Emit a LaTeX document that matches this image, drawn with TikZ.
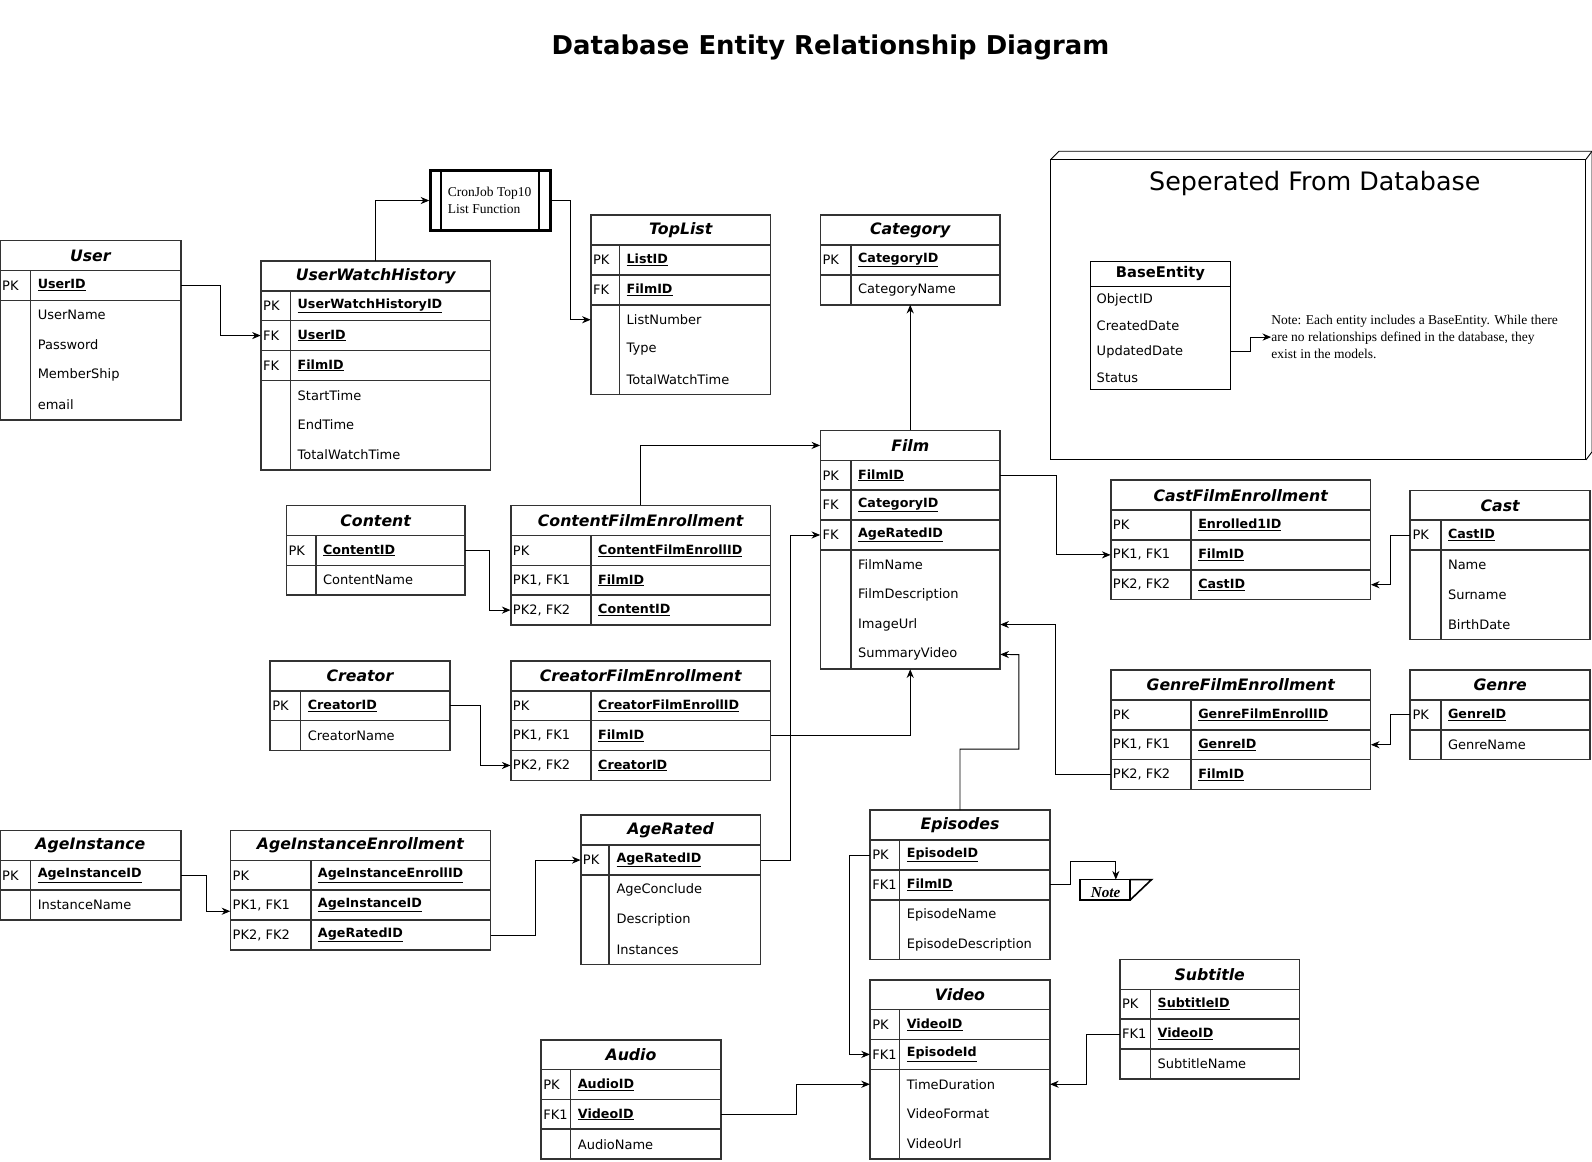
\documentclass[tikz,border=0pt]{standalone}
\usepackage{fontspec}
\setmainfont{DejaVu Sans}
\newfontfamily\notefont{Liberation Serif}
\usetikzlibrary{arrows.meta,calc}

\tikzset{
  entline/.style={draw=black!80,line width=1.6pt},
  rowbox/.style={draw=none,inner sep=0pt,minimum height=29.4pt},
  enthead/.style={rowbox,font=\fontsize{15.5}{17}\selectfont\bfseries\itshape},
  keytxt/.style={anchor=west,inner sep=0pt,font=\fontsize{12.8}{14}\selectfont},
  idtxt/.style={keytxt,font=\fontsize{12.5}{14}\selectfont\bfseries},
  notetxt/.style={anchor=west,align=left,inner sep=0pt,font=\notefont\fontsize{13.3}{17}\selectfont},
  fk/.style={-{Stealth[length=8.5pt,width=7pt]},line width=0.9pt},
}

% #1 name, #2 left, #3 top, #4 width, #5 key column, #6 title, #7 keys, #8 fields
\newcommand{\erentity}[8]{%
  \begin{scope}[shift={(#2,#3)}]
    \node[enthead,minimum width=#4] (#1-h) at ({#4/2},14.7) {#6};
    \foreach \kk/\ff [count=\i] in {#7}{
      \node[rowbox,minimum width=#4] (#1-k\i) at ({#4/2},{29.4*\i+14.7}) {};
      \node[keytxt] (#1-k\i-key) at (2,{29.4*\i+14.7}) {\kk};
      \node[idtxt] (#1-k\i-txt) at ({#5+7},{29.4*\i+14.7}) {\underline{\ff}};
      \draw[entline] (0,{29.4*(\i+1)}) -- (#4,{29.4*(\i+1)});
      \xdef\nkeys{\i}
    }
    \gdef\nfields{0}
    \if\relax\detokenize{#8}\relax\else
    \foreach \aa [count=\j] in {#8}{
      \node[rowbox,minimum width=#4] (#1-a\j) at ({#4/2},{29.4*(\nkeys+\j)+14.7}) {};
      \node[keytxt] (#1-a\j-txt) at ({#5+7},{29.4*(\nkeys+\j)+14.7}) {\aa};
      \xdef\nfields{\j}
    }\fi
    \pgfmathsetmacro{\entbot}{29.4*(\nkeys+\nfields+1)}
    \coordinate (#1-s) at ({#4/2},\entbot);
    \draw[entline] (0,0) rectangle (#4,\entbot);
    \draw[entline] (0,29.4) -- (#4,29.4);
    \draw[entline] (#5,29.4) -- (#5,\entbot);
  \end{scope}}

\begin{document}
\begin{tikzpicture}[x=1pt,y=-1pt]
  \fill[white] (0,0) rectangle (1568,1144);
  \useasboundingbox (0,0) rectangle (1568,1144);

  \node[font=\fontsize{25.5}{30}\selectfont\bfseries] (title) at (818,47) {Database Entity Relationship Diagram};

  % tables
  \erentity{user}{0}{237}{178}{30}{User}{PK/UserID}{UserName,Password,MemberShip,email}
  \erentity{uwh}{257}{257}{226}{29}{UserWatchHistory}{PK/UserWatchHistoryID,FK/UserID,FK/FilmID}{StartTime,EndTime,TotalWatchTime}
  \erentity{toplist}{582}{212}{177}{28}{TopList}{PK/ListID,FK/FilmID}{ListNumber,Type,TotalWatchTime}
  \erentity{category}{808}{212}{177}{30}{Category}{PK/CategoryID}{CategoryName}
  \erentity{film}{808}{424}{177}{30}{Film}{PK/FilmID,FK/CategoryID,FK/AgeRatedID}{FilmName,FilmDescription,ImageUrl,SummaryVideo}
  \erentity{content}{282}{498}{176}{29}{Content}{PK/ContentID}{ContentName}
  \erentity{cfe}{503}{498}{256}{79}{ContentFilmEnrollment}{PK/ContentFilmEnrollID,{PK1, FK1}/FilmID,{PK2, FK2}/ContentID}{}
  \erentity{creator}{266}{651}{177}{30}{Creator}{PK/CreatorID}{CreatorName}
  \erentity{crfe}{503}{651}{256}{79}{CreatorFilmEnrollment}{PK/CreatorFilmEnrollID,{PK1, FK1}/FilmID,{PK2, FK2}/CreatorID}{}
  \erentity{ageinst}{0}{818}{178}{30}{AgeInstance}{PK/AgeInstanceID}{InstanceName}
  \erentity{aie}{227}{818}{256}{79}{AgeInstanceEnrollment}{PK/AgeInstanceEnrollID,{PK1, FK1}/AgeInstanceID,{PK2, FK2}/AgeRatedID}{}
  \erentity{agerated}{572}{803}{177}{28}{AgeRated}{PK/AgeRatedID}{AgeConclude,Description,Instances}
  \erentity{cfilm}{1094}{473}{256}{79}{CastFilmEnrollment}{PK/Enrolled1ID,{PK1, FK1}/FilmID,{PK2, FK2}/CastID}{}
  \erentity{cast}{1389}{483}{177}{30}{Cast}{PK/CastID}{Name,Surname,BirthDate}
  \erentity{gfe}{1094}{660}{256}{79}{GenreFilmEnrollment}{PK/GenreFilmEnrollID,{PK1, FK1}/GenreID,{PK2, FK2}/FilmID}{}
  \erentity{genre}{1389}{660}{177}{30}{Genre}{PK/GenreID}{GenreName}
  \erentity{episodes}{857}{798}{177}{29}{Episodes}{PK/EpisodeID,FK1/FilmID}{EpisodeName,EpisodeDescription}
  \erentity{video}{857}{965}{177}{29}{Video}{PK/VideoID,FK1/EpisodeId}{TimeDuration,VideoFormat,VideoUrl}
  \erentity{audio}{533}{1024}{177}{29}{Audio}{PK/AudioID,FK1/VideoID}{AudioName}
  \erentity{subtitle}{1103}{945}{177}{30}{Subtitle}{PK/SubtitleID,FK1/VideoID}{SubtitleName}

  % cron job
  \node[draw,line width=2.4pt,minimum width=118,minimum height=59,inner sep=0pt] (cron) at (483,197.5) {};
  \draw[line width=2pt] ($(cron.north west)+(12,0)$) -- ($(cron.south west)+(12,0)$);
  \draw[line width=2pt] ($(cron.north east)+(-12,0)$) -- ($(cron.south east)+(-12,0)$);
  \node[notetxt] (cron-t) at (441,197) {CronJob Top10\\List Function};

  % separated part
  \draw[line width=0.9pt] (1035,157) rectangle (1562,453);
  \draw[line width=0.9pt] (1035,157) -- (1043,149) -- (1568,149) -- (1568,445) -- (1562,453);
  \draw[line width=0.9pt] (1562,157) -- (1568,149);
  \node[font=\fontsize{25}{28}\selectfont] (septitle) at (1295,181) {Seperated From Database};
  \node[rowbox,minimum width=138,minimum height=25,font=\fontsize{14.5}{16}\selectfont\bfseries] (base-h) at (1143,269.5) {BaseEntity};
  \foreach \f [count=\j] in {ObjectID,CreatedDate,UpdatedDate,Status}{
    \node[rowbox,minimum width=138,minimum height=25.4] (base-a\j) at (1143,{270+25.4*\j}) {};
    \node[keytxt] (base-a\j-txt) at (1080,{270+25.4*\j}) {\f};
  }
  \draw[line width=0.8pt] (1074,257) rectangle (1212,384);
  \draw[line width=0.8pt] (1074,282) -- (1212,282);
  \node[notetxt] (basenote) at (1252,332) {Note: Each entity includes a BaseEntity. While there\\are no relationships defined in the database, they\\exist in the models.};

  % note shape
  \node[inner sep=0pt,minimum width=70,minimum height=20] (notebox) at (1099,876.5) {};
  \draw[line width=1.6pt] (notebox.north west) rectangle ($(notebox.south west)+(49,0)$);
  \draw[line width=1.6pt] ($(notebox.north west)+(49,0)$) -- (notebox.north east) -- ($(notebox.south west)+(49,0)$);
  \node[font=\notefont\fontsize{15}{16}\selectfont\bfseries\itshape,inner sep=0pt] (notebox-t) at (1089,880) {\underline{Note}};

  % relations
  \draw[fk] (user-k1.east) -- ++(39,0) |- (uwh-k2.west);
  \draw[fk] (uwh-h.north) |- (cron.west);
  \draw[fk] (cron.east) -- ++(19,0) |- (toplist-a1.west);
  \draw[fk] (film-h.north) -- (category-s);
  \draw[fk] (cfe-h.north) |- (film-h.west);
  \draw[fk] (content-k1.east) -- ++(24,0) |- (cfe-k3.west);
  \draw[fk] (creator-k1.east) -- ++(30,0) |- (crfe-k3.west);
  \draw[fk] (crfe-k2.east) -| (film-s);
  \draw[fk] (agerated-k1.east) -- ++(29,0) |- (film-k3.west);
  \draw[fk] (ageinst-k1.east) -- ++(25,0) |- ($(aie-k2.west)+(0,6)$);
  \draw[fk] (aie-k3.east) -- ++(44,0) |- (agerated-k1.west);
  \draw[fk] (film-k1.east) -- ++(55,0) |- (cfilm-k2.west);
  \draw[fk] (cast-k1.west) -- ++(-19,0) |- (cfilm-k3.east);
  \draw[fk] (genre-k1.west) -- ++(-19,0) |- (gfe-k2.east);
  \draw[fk] (gfe-k3.west) -- ++(-54,0) |- (film-a3.east);
  \draw[fk] (episodes-h.north) -- ++(0,-60) -| ++(58,-93) -- (film-a4.east);
  \draw[fk] (episodes-k1.west) -- ++(-20,0) |- (video-k2.west);
  \draw[fk] (audio-k2.east) -- ++(74,0) |- (video-a1.west);
  \draw[fk] (subtitle-k2.west) -- ++(-33,0) |- (video-a1.east);
  \draw[fk] (episodes-k2.east) -- ++(20,0) |- ($(notebox.north)+(0,-18)$) -- (notebox.north);
  \draw[fk] (base-a3.east) -- ++(19,0) |- (basenote.west);
\end{tikzpicture}
\end{document}
